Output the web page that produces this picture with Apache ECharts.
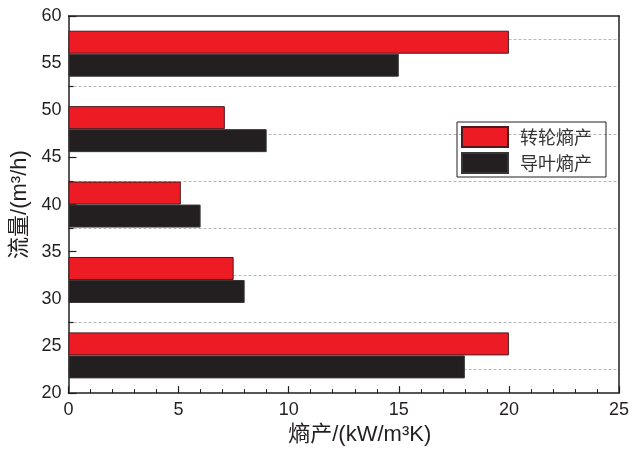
<!DOCTYPE html>
<html><head><meta charset="utf-8">
<script src="https://cdn.jsdelivr.net/npm/echarts@6/dist/echarts.min.js"></script>
<style>html,body{margin:0;padding:0;background:#fff}#c{width:632px;height:451px}</style>
</head><body><div id="c"></div>
<script>
var flows = ['24', '32', '40', '48', '56'];
var rotorEntropy = [20, 7.5, 5.1, 7.1, 20];
var guideEntropy = [18, 8, 6, 9, 15];
var seriesNames = ['转轮熵产', '导叶熵产'];
var xTitle = '熵产/(kW/m³K)';
var yTitle = '流量/(m³/h)';

var ink = '#231f20';
var numFont = 'Liberation Sans, Arial, sans-serif';
var cjkFont = 'Liberation Sans, Noto Sans CJK SC, sans-serif';
var chart = echarts.init(document.getElementById('c'));
chart.setOption({
  animation: false,
  grid: {left: 68.5, right: 13, top: 16, bottom: 53.5},
  legend: {
    orient: 'vertical', left: 457, top: 122,
    itemWidth: 46, itemHeight: 20, itemGap: 4,
    padding: [4, 14, 3, 4],
    borderColor: ink, borderWidth: 1,
    icon: 'rect',
    textStyle: {fontSize: 18, color: '#333', fontFamily: 'Noto Sans CJK SC', padding: [0, 0, 0, 7]},
    data: seriesNames
  },
  xAxis: [{
    type: 'value', min: 0, max: 25, interval: 5, position: 'bottom',
    axisLine: {show: true, lineStyle: {color: ink, width: 1.5}},
    axisTick: {show: true, inside: true, length: 7, lineStyle: {color: ink, width: 1.2}},
    minorTick: {show: true, splitNumber: 5, length: 4, lineStyle: {color: ink, width: 1}},
    splitLine: {show: false},
    axisLabel: {fontSize: 18, color: ink, fontFamily: numFont, margin: 8},
    name: xTitle, nameLocation: 'middle', nameGap: 27,
    nameTextStyle: {fontSize: 22, color: ink, fontFamily: cjkFont, padding: [0, 0, 0, 32]}
  }, {
    type: 'value', min: 0, max: 25, interval: 5, position: 'top',
    axisLine: {show: true, lineStyle: {color: ink, width: 1.5}},
    axisTick: {show: false}, axisLabel: {show: false}, splitLine: {show: false}
  }],
  yAxis: [{
    type: 'category', data: flows, position: 'left', show: false
  }, {
    type: 'value', min: 20, max: 60, interval: 5, position: 'left',
    axisLine: {show: true, lineStyle: {color: ink, width: 1.5}},
    axisTick: {show: true, inside: true, length: 8, lineStyle: {color: ink, width: 1.2}},
    minorTick: {show: true, splitNumber: 2, length: 5, lineStyle: {color: ink, width: 1.2}},
    splitLine: {show: false},
    minorSplitLine: {show: true, lineStyle: {color: '#b8b8b8', type: [3, 2], width: 1}},
    axisLabel: {fontSize: 18, color: ink, fontFamily: numFont, margin: 7},
    name: yTitle, nameLocation: 'middle', nameGap: 36, nameRotate: 90,
    nameTextStyle: {fontSize: 22, color: ink, fontFamily: cjkFont}
  }, {
    type: 'value', min: 20, max: 60, interval: 5, position: 'right',
    axisLine: {show: true, lineStyle: {color: ink, width: 1.5}},
    axisTick: {show: false}, axisLabel: {show: false}, splitLine: {show: false}
  }],
  series: [{
    name: seriesNames[0], type: 'bar', xAxisIndex: 0, yAxisIndex: 0,
    data: rotorEntropy, barWidth: 23, barGap: '0%',
    itemStyle: {color: '#ed1c24', borderColor: '#4a1a1c', borderWidth: 1}
  }, {
    name: seriesNames[1], type: 'bar', xAxisIndex: 0, yAxisIndex: 0,
    data: guideEntropy, barWidth: 23, barGap: '0%',
    itemStyle: {color: ink, borderColor: '#3a3637', borderWidth: 1}
  }]
});
</script></body></html>
